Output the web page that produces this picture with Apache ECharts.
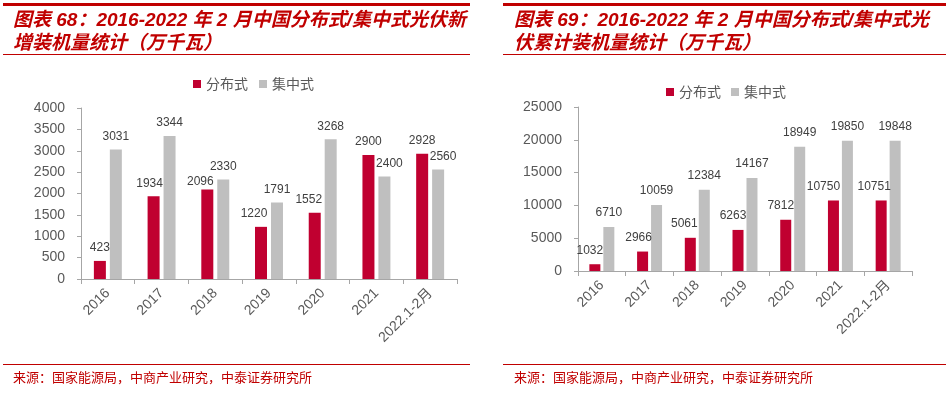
<!DOCTYPE html>
<html>
<head>
<meta charset="utf-8">
<script src="https://cdn.jsdelivr.net/npm/echarts@6/dist/echarts.min.js"></script>
<style>
html,body{margin:0;padding:0;background:#fff;}
#c{width:946px;height:397px;}
</style>
</head>
<body>
<div id="c"></div>
<script>
// ---- data ----
const categories = ['2016', '2017', '2018', '2019', '2020', '2021', '2022.1-2月'];
const seriesNames = ['分布式', '集中式'];
// 图表68: 新增装机量 (万千瓦)
const newDistributed = [423, 1934, 2096, 1220, 1552, 2900, 2928];
const newCentralized = [3031, 3344, 2330, 1791, 3268, 2400, 2560];
// 图表69: 累计装机量 (万千瓦)
const cumDistributed = [1032, 2966, 5061, 6263, 7812, 10750, 10751];
const cumCentralized = [6710, 10059, 12384, 14167, 18949, 19850, 19848];
const leftTicks = {min: 0, max: 4000, interval: 500};
const rightTicks = {min: 0, max: 25000, interval: 5000};
const title1 = '图表 68：2016-2022 年 2 月中国分布式/集中式光伏新\n增装机量统计（万千瓦）';
const title2 = '图表 69：2016-2022 年 2 月中国分布式/集中式光\n伏累计装机量统计（万千瓦）';
const sourceText = '来源：国家能源局，中商产业研究，中泰证券研究所';

// ---- style ----
const RED = '#C00030';
const GRAY = '#BFBFBF';
const TITLE_RED = '#C00000';
const AXIS = '#A6A6A6';
const TXT = '#595959';
const FONT = 'Liberation Sans, Arial, "Noto Sans CJK SC", sans-serif';
// label nudges (pixels) by category index, as placed in the reference
const labelNudges = [
  {1: [-4, 0], 2: [-7, 5], 3: [-7, 0], 4: [-6, 0]},
  {5: [5, 0], 6: [5, 0]},
  {0: [-5, 0], 1: [-4, 0], 2: [-6, 0], 3: [-5, 0], 4: [-5, 0], 5: [-10, 0], 6: [-7, 0]},
  {}
];

const chart = echarts.init(document.getElementById('c'), null, {renderer: 'canvas'});

function xAxis(gi) {
  return {
    type: 'category', gridIndex: gi, data: categories,
    axisLine: {lineStyle: {color: AXIS, width: 1}},
    axisTick: {show: true, length: 5, lineStyle: {color: AXIS}, alignWithLabel: false},
    axisLabel: {rotate: 45, fontSize: 14, color: TXT, fontFamily: FONT, margin: 12, interval: 0}
  };
}
function yAxis(gi, t, margin) {
  return {
    type: 'value', gridIndex: gi, min: t.min, max: t.max, interval: t.interval,
    axisLine: {show: true, lineStyle: {color: AXIS, width: 1}},
    axisTick: {show: true, inside: false, length: 4, lineStyle: {color: AXIS}},
    splitLine: {show: false},
    axisLabel: {fontSize: 14, color: TXT, fontFamily: FONT, margin: margin,
                formatter: function (v) { return String(v); }}
  };
}
function bar(name, data, gi, color, width, gap, nudges, dist) {
  return {
    type: 'bar', name: name, xAxisIndex: gi, yAxisIndex: gi,
    data: data.map(function (v, i) {
      return nudges[i] ? {value: v, label: {offset: nudges[i]}} : v;
    }),
    barWidth: width, barGap: gap,
    itemStyle: {color: color},
    label: {show: true, position: 'top', distance: dist, fontSize: 12, color: '#404040', fontFamily: FONT},
    emphasis: {disabled: true}
  };
}
function legend(left, top, gap) {
  return {
    left: left, top: top, padding: 0, itemWidth: 8, itemHeight: 8, itemGap: gap,
    icon: 'rect',
    data: seriesNames,
    textStyle: {fontSize: 14, color: TXT, fontFamily: '"Noto Sans CJK SC", sans-serif'}
  };
}
function hline(x1, x2, y, w) {
  return {type: 'line', shape: {x1: x1, y1: y, x2: x2, y2: y}, style: {stroke: TITLE_RED, lineWidth: w}, silent: true};
}
const titleStyle = {fontSize: 19, fontWeight: 'bold', fontStyle: 'italic', color: TITLE_RED, lineHeight: 23,
                    fontFamily: '"Liberation Sans", Arial, "Noto Sans CJK SC", sans-serif'};
const srcStyle = {fontSize: 13, fontWeight: 'normal', color: TITLE_RED, fontFamily: '"Noto Sans CJK SC", sans-serif'};

const option = {
  animation: false,
  backgroundColor: '#fff',
  title: [
    {text: title1, left: 13, top: 9, padding: 0, textStyle: titleStyle},
    {text: title2, left: 514, top: 9, padding: 0, textStyle: titleStyle},
    {text: sourceText, left: 13, top: 371, padding: 0, textStyle: srcStyle},
    {text: sourceText, left: 514, top: 371, padding: 0, textStyle: srcStyle}
  ],
  legend: [legend(193, 77, 11), legend(666, 85, 10)],
  grid: [
    {left: 81, top: 108, width: 376, height: 171, containLabel: false},
    {left: 578, top: 107, width: 334, height: 164, containLabel: false}
  ],
  xAxis: [xAxis(0), xAxis(1)],
  yAxis: [yAxis(0, leftTicks, 16), yAxis(1, rightTicks, 16)],
  series: [
    bar(seriesNames[0], newDistributed, 0, RED, 12, '33%', labelNudges[0], 7),
    bar(seriesNames[1], newCentralized, 0, GRAY, 12, '33%', labelNudges[1], 7),
    bar(seriesNames[0], cumDistributed, 1, RED, 11, '27%', labelNudges[2], 8),
    bar(seriesNames[1], cumCentralized, 1, GRAY, 11, '27%', labelNudges[3], 8)
  ],
  graphic: [
    hline(3, 470, 4.5, 3),
    hline(3, 470, 54.5, 1),
    hline(3, 470, 364.5, 1),
    hline(503, 946, 4.5, 3),
    hline(503, 946, 54.5, 1),
    hline(503, 946, 364.5, 1)
  ]
};
chart.setOption(option);
</script>
</body>
</html>
